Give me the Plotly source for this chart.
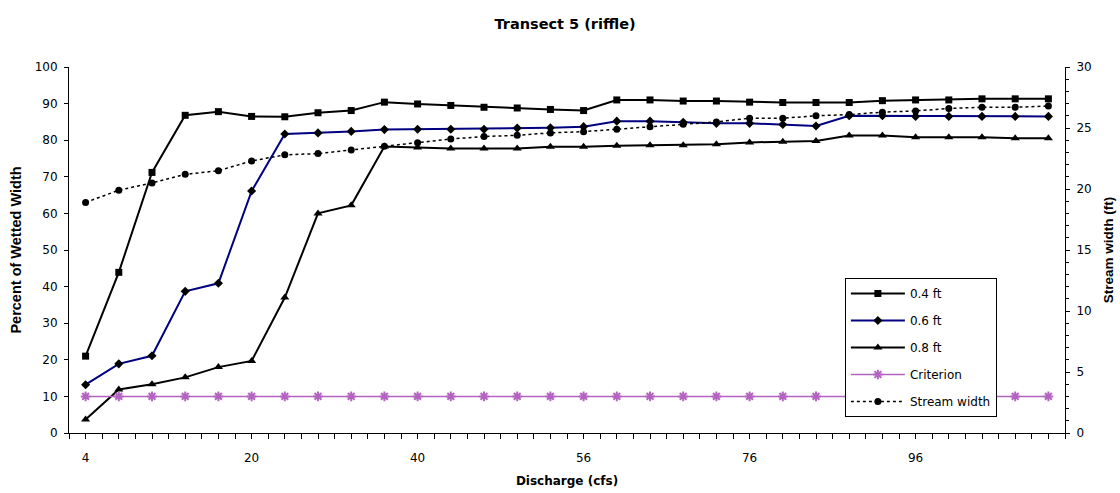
import plotly.graph_objects as go

# Discharge categories (cfs); every 5th is labelled on the axis
discharge = [4, 8, 12, 14, 16, 20, 24, 28, 32, 36,
             40, 44, 48, 52, 54, 56, 60, 64, 68, 72,
             76, 80, 84, 88, 92, 96, 100, 104, 108, 112]
label_every = 5

depth_04 = [21.0, 43.9, 71.2, 86.8, 87.8, 86.5, 86.4, 87.5, 88.1, 90.4,
            89.9, 89.5, 89.0, 88.8, 88.4, 88.1, 91.0, 91.0, 90.7, 90.7,
            90.4, 90.3, 90.3, 90.3, 90.8, 91.0, 91.0, 91.3, 91.3, 91.3]
depth_06 = [13.2, 18.9, 21.1, 38.7, 40.9, 66.1, 81.7, 82.0, 82.4, 82.9,
            83.0, 83.0, 83.0, 83.3, 83.4, 83.7, 85.2, 85.2, 84.9, 84.6,
            84.6, 84.3, 83.9, 86.7, 86.7, 86.5, 86.5, 86.5, 86.5, 86.5]
depth_08 = [3.7, 11.9, 13.3, 15.2, 18.0, 19.7, 37.0, 60.0, 62.2, 78.3,
            78.0, 77.7, 77.7, 77.7, 78.2, 78.2, 78.5, 78.6, 78.6, 78.9,
            79.4, 79.6, 79.8, 81.3, 81.3, 80.8, 80.8, 80.8, 80.5, 80.5]
criterion = [10] * 30
stream_width = [18.9, 19.9, 20.5, 21.2, 21.5, 22.3, 22.8, 22.9, 23.2, 23.5,
                23.8, 24.1, 24.3, 24.4, 24.6, 24.7, 24.9, 25.1, 25.3, 25.5,
                25.8, 25.8, 26.0, 26.1, 26.3, 26.4, 26.6, 26.7, 26.7, 26.8]

xi = list(range(len(discharge)))
tickvals = xi[::label_every]
ticktext = [str(d) for d in discharge[::label_every]]

FONT = "DejaVu Sans, sans-serif"
TFONT = "Liberation Sans, Arial, sans-serif"

fig = go.Figure()
fig.add_trace(go.Scatter(x=xi, y=depth_04, name="0.4 ft", mode="lines+markers",
                         line=dict(color="black", width=2),
                         marker=dict(symbol="square", size=7, color="black"),
                         legendgroup="a"))
fig.add_trace(go.Scatter(x=xi, y=depth_06, name="0.6 ft", mode="lines+markers",
                         line=dict(color="#000080", width=2),
                         marker=dict(symbol="diamond", size=7, color="black"),
                         legendgroup="b"))
fig.add_trace(go.Scatter(x=xi, y=depth_08, name="0.8 ft", mode="lines+markers",
                         line=dict(color="black", width=2),
                         marker=dict(symbol="triangle-up", size=8, color="black"),
                         legendgroup="c"))
fig.add_trace(go.Scatter(x=xi, y=criterion, name="Criterion", mode="lines+markers",
                         line=dict(color="#B364C0", width=1.5),
                         marker=dict(symbol="asterisk-open", size=8,
                                     line=dict(color="#800080", width=2)),
                         legendgroup="d"))
fig.add_trace(go.Scatter(x=xi, y=stream_width, name="Stream width", mode="lines+markers",
                         yaxis="y2",
                         line=dict(color="black", width=1.5, dash="dot"),
                         marker=dict(symbol="circle", size=7, color="black"),
                         legendgroup="e"))

fig.update_layout(
    width=1120, height=493,
    margin=dict(l=69, r=55, t=67, b=60),
    paper_bgcolor="white", plot_bgcolor="white",
    font=dict(family=FONT, size=12, color="black"),
    title=dict(text="<b>Transect 5 (riffle)</b>", x=0.5045, xanchor="center",
               y=0.952, yanchor="middle", font=dict(size=14.5, family=FONT)),
    showlegend=True,
    legend=dict(x=0.779, y=0.4235, xanchor="left", yanchor="top",
                bordercolor="black", borderwidth=1, bgcolor="white",
                font=dict(size=12, family=FONT), tracegroupgap=8,
                itemwidth=54),
    xaxis=dict(range=[-0.5, len(xi) - 0.5], tickmode="array",
               tickvals=tickvals, ticktext=ticktext,
               ticks="outside", ticklen=5, tickcolor="black",
               ticklabelstandoff=9, automargin=False,
               showline=True, linecolor="black", linewidth=1,
               showgrid=False, zeroline=False,
               minor=dict(tickmode="linear", tick0=-0.5, dtick=0.5,
                          ticks="outside", ticklen=5, tickcolor="black"),
               title=dict(text="<b>Discharge (cfs)</b>", font=dict(size=12), standoff=12)),
    yaxis=dict(range=[0, 100], dtick=10, ticks="outside", ticklen=4,
               tickcolor="black", showline=True, linecolor="black", linewidth=1,
               ticklabelstandoff=4, automargin=False,
               showgrid=False, zeroline=False,
               title=dict(text="<b>Percent of Wetted Width</b>",
                          font=dict(size=14.5, family=TFONT), standoff=9)),
    yaxis2=dict(range=[0, 30], dtick=5, overlaying="y", side="right",
                ticks="outside", ticklen=4, tickcolor="black",
                ticklabelstandoff=4, automargin=False,
                showline=True, linecolor="black", linewidth=1,
                showgrid=False, zeroline=False,
                minor=dict(dtick=1, ticks="outside", ticklen=3, tickcolor="black"),
                title=dict(text="<b>Stream width (ft)</b>",
                           font=dict(size=13.5, family=TFONT), standoff=12)),
)

fig.write_html("out.html", config={"displayModeBar": False},
               post_script="document.body.style.margin='0px';")
